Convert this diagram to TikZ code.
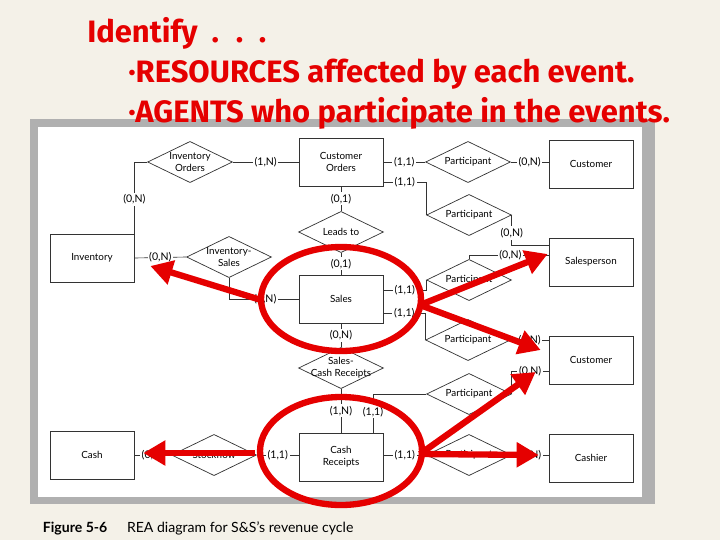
\documentclass[tikz,border=0pt]{standalone}
\usepackage{fontspec}
\setmainfont{Lato}
\newfontfamily\titlefont{Fira Sans}
\usetikzlibrary{arrows.meta,calc,positioning,shapes.geometric}
\definecolor{slidebg}{HTML}{F4F1E8}
\definecolor{markred}{HTML}{E50000}
\definecolor{panelshade}{HTML}{B0B0B0}
\definecolor{inkgray}{HTML}{333333}

\begin{document}
\begin{tikzpicture}[x=0.025cm,y=-0.025cm,
    entity/.style={draw=inkgray,line width=0.5pt,minimum width=2.1cm,minimum height=1.2cm,
      align=center,font=\fontsize{7}{8.5}\selectfont},
    rel/.style={draw=inkgray,line width=0.5pt,diamond,minimum width=2.12cm,minimum height=1.03cm,inner sep=0pt},
    dtext/.style={align=center,inner sep=0pt,font=\fontsize{7}{8.5}\selectfont},
    card/.style={fill=white,inner sep=1.2pt,font=\fontsize{7.5}{8}\selectfont},
    link/.style={draw=inkgray,line width=0.45pt},
    hl/.style={draw=markred,line width=4.5pt},
    pointer/.style={hl,-{Triangle[length=5.5mm,width=6mm]}},
    heading/.style={anchor=base west,inner sep=0pt,text=markred,font=\titlefont\bfseries\fontsize{22}{24}\selectfont}
  ]
  \fill[slidebg] (0,0) rectangle (720,540);
  \useasboundingbox (0,0) rectangle (720,540);

  % figure panel
  \fill[panelshade] (30,119) rectangle (655,504);
  \fill[white] (38,127) rectangle (642,497);
  \node[anchor=west,font=\fontsize{10}{12}\selectfont] (cap) at (38,528)
    {\textbf{Figure 5-6}\hspace{14pt}REA diagram for S\&S's revenue cycle};

  % slide text
  \node[heading] (hd) at (87,42) {Identify\hspace{10pt}.\hspace{12pt}.\hspace{11pt}.};
  \node[heading] (res) at (128,82) {·RESOURCES affected by each event.};
  \node[heading] (agt) at (128,122) {·AGENTS who participate in the events.};

  % entities
  \node[entity] (inv) at (92,258) {Inventory};
  \node[entity] (co) at (341,162) {Customer\\Orders};
  \node[entity] (cust1) at (591,164) {Customer};
  \node[entity] (sp) at (591,262) {Salesperson};
  \node[entity] (sales) at (341,299) {Sales};
  \node[entity] (cust2) at (591,360) {Customer};
  \node[entity] (cr) at (341,457) {Cash\\Receipts};
  \node[entity] (cash) at (92,455) {Cash};
  \node[entity] (cashier) at (591,458) {Cashier};

  % relationships
  \node[rel,label={[dtext]center:Inventory\\Orders}] (io) at (190,162) {};
  \node[rel,label={[dtext]center:Inventory-\\Sales}] (is) at (229,257) {};
  \node[rel,label={[dtext]center:Leads to}] (lt) at (341,232) {};
  \node[rel,label={[dtext]center:Participant}] (p1) at (468,162) {};
  \node[rel,label={[dtext]center:Participant}] (p2) at (469,215) {};
  \node[rel,label={[dtext]center:Participant}] (p3) at (469,280) {};
  \node[rel,label={[dtext]center:Participant}] (p4) at (468,340) {};
  \node[rel,label={[dtext]center:Sales-\\Cash Receipts}] (scr) at (341,368) {};
  \node[rel,label={[dtext]center:Participant}] (p5) at (469,394) {};
  \node[rel,label={[dtext]center:Participant}] (p6) at (469,455) {};
  \node[rel,label={[dtext]center:Stockflow}] (sf) at (214,455) {};

  % links with cardinalities
  \draw[link] (io.west) -| node[card,pos=0.76]{(0,N)} (inv.north east);
  \draw[link] (io.east) -- node[card]{(1,N)} (co.west);
  \draw[link] (inv.east) -- node[card]{(0,N)} (is.west);
  \draw[link] (is.south) |- node[card,pos=0.76]{(1,N)} (sales.west);
  \draw[link] (co.south) -- node[card]{(0,1)} (lt.north);
  \draw[link] (lt.south) -- node[card]{(0,1)} (sales.north);
  \draw[link] (co.east) -- node[card]{(1,1)} (p1.west);
  \draw[link] (p1.east) -- node[card]{(0,N)} (cust1.west |- p1.east);
  \draw[link] ($(co.east)+(0,20)$) -| node[card,pos=0.25]{(1,1)} (p2.west);
  \draw[link] (p2.east) |- node[card,pos=0.3]{(0,N)} ($(sp.west)+(0,-17)$);
  \draw[link] (p3.north) |- node[card,pos=0.76]{(0,N)} ($(sp.west)+(0,-7)$);
  \draw[link] ($(sales.east)+(0,-9)$) -| node[card,pos=0.25]{(1,1)} (p3.west);
  \draw[link] ($(sales.east)+(0,14)$) -| node[card,pos=0.25]{(1,1)} (p4.west);
  \draw[link] (p4.east) -- node[card]{(0,N)} (cust2.west |- p4.east);
  \draw[link] (p5.east) |- node[card,pos=0.75]{(0,N)} ($(cust2.west)+(0,11)$);
  \draw[link] (sales.south) -- node[card]{(0,N)} (scr.north);
  \draw[link] (scr.south) -- node[card]{(1,N)} (cr.north);
  \draw[link] (p5.west) -| node[card,pos=0.73]{(1,1)} ($(cr.north)+(32,0)$);
  \draw[link] (cr.east |- p6.west) -- node[card]{(1,1)} (p6.west);
  \draw[link] (p6.east) -- node[card]{(0,N)} (cashier.west |- p6.east);
  \draw[link] (sf.east) -- node[card]{(1,1)} (cr.west |- sf.east);
  \draw[link] (cash.east) -- node[card]{(0,N)} (sf.west);

  % red marks
  \draw[hl] (sales) ellipse [x radius=80,y radius=52];
  \draw[hl] ($(cr)+(0,-6)$) ellipse [x radius=81,y radius=54];
  \coordinate (sL) at ($(sales)+(-80,1)$);
  \coordinate (sR) at ($(sales)+(79,6)$);
  \coordinate (cL) at ($(cr)+(-86,-4)$);
  \coordinate (cR) at ($(cr)+(79,-3)$);
  \draw[pointer] (sL) -- ($(inv.east)+(16,8)$);
  \draw[pointer] (sR) -- ($(sp.west)+(-1,-8)$);
  \draw[pointer] (sR) -- ($(cust2.west)+(-8,-10)$);
  \draw[pointer] (cR) -- ($(cust2.west)+(-13,12)$);
  \draw[pointer] (cR) -- ($(cashier.west)+(-10,-3)$);
  \draw[pointer] (cL) -- ($(cash.east)+(9,-2)$);
\end{tikzpicture}
\end{document}
